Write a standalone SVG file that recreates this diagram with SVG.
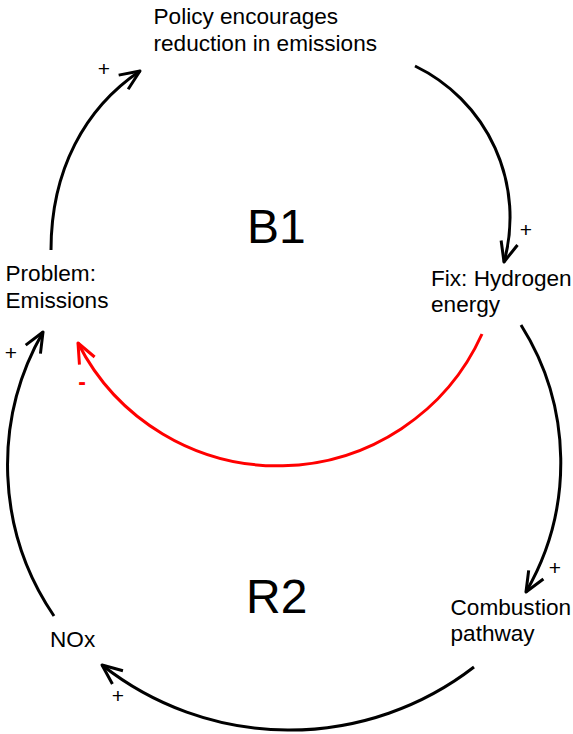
<svg xmlns="http://www.w3.org/2000/svg" width="573" height="734" viewBox="0 0 573 734">
  <style>
    .lbl { font-family: "Liberation Sans", Arial, sans-serif; font-size: 22.6px; fill: #000; }
    .loop { font-family: "Liberation Sans", Arial, sans-serif; font-size: 48px; fill: #000; }
    .pol { font-family: "Liberation Sans", Arial, sans-serif; font-size: 21px; fill: #000; text-anchor: middle; }
    .neg { font-family: "Liberation Sans", Arial, sans-serif; font-size: 23px; font-weight: bold; fill: #ff0000; text-anchor: middle; }
    .link { fill: none; stroke: #000; stroke-width: 3; marker-end: url(#arrow); }
    .link-neg { fill: none; stroke: #ff0000; stroke-width: 3; marker-end: url(#arrow-red); }
  </style>
  <defs>
    <marker id="arrow" viewBox="-24 -12 28 24" markerWidth="28" markerHeight="24" refX="0" refY="0" orient="auto" markerUnits="userSpaceOnUse">
      <path d="M-20,-8.5 L0,0 L-20,8.5" fill="none" stroke="#000" stroke-width="3" stroke-linejoin="round" stroke-linecap="butt"/>
    </marker>
    <marker id="arrow-red" viewBox="-24 -12 28 24" markerWidth="28" markerHeight="24" refX="0" refY="0" orient="auto" markerUnits="userSpaceOnUse">
      <path d="M-20,-8.5 L0,0 L-20,8.5" fill="none" stroke="#ff0000" stroke-width="3" stroke-linejoin="round" stroke-linecap="butt"/>
    </marker>
  </defs>

  <g id="connectors">
    <path id="problem-to-policy" class="link" d="M51,250 C51,170 85,108 140,71"/>
    <path id="policy-to-fix" class="link" d="M415,66 A168,168 0 0 1 504,262"/>
    <path id="fix-to-problem" class="link-neg" d="M482,334 A224,224 0 0 1 78,343"/>
    <path id="fix-to-combustion" class="link" d="M521,325 A258,258 0 0 1 526,592"/>
    <path id="combustion-to-nox" class="link" d="M474,667 A302,302 0 0 1 102,665"/>
    <path id="nox-to-problem" class="link" d="M54,616 A268,268 0 0 1 43,332"/>
    <text class="pol" x="104" y="75.5">+</text>
    <text class="pol" x="526" y="236.5">+</text>
    <text class="neg" x="82" y="389.5">-</text>
    <text class="pol" x="555" y="574.5">+</text>
    <text class="pol" x="118" y="703">+</text>
    <text class="pol" x="11" y="359.5">+</text>
  </g>

  <g id="node-policy">
    <text class="lbl" x="153.5" y="23.5">Policy encourages<tspan x="153.5" dy="27">reduction in emissions</tspan></text>
  </g>
  <g id="node-problem">
    <text class="lbl" x="5.5" y="281">Problem:<tspan x="5.5" dy="26.5">Emissions</tspan></text>
  </g>
  <g id="node-fix">
    <text class="lbl" x="431" y="286">Fix: Hydrogen<tspan x="431" dy="26">energy</tspan></text>
  </g>
  <g id="node-combustion">
    <text class="lbl" x="450.5" y="615">Combustion<tspan x="450.5" dy="26">pathway</tspan></text>
  </g>
  <g id="node-nox">
    <text class="lbl" x="50" y="647">NOx</text>
  </g>
  <g id="loop-b1">
    <text class="loop" x="247" y="242.7">B1</text>
  </g>
  <g id="loop-r2">
    <text class="loop" x="246" y="612.7">R2</text>
  </g>
</svg>
